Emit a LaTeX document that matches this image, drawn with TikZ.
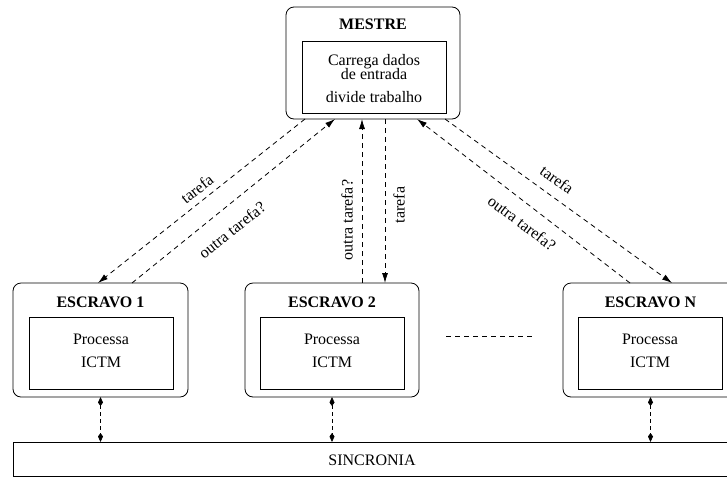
\documentclass[tikz,border=0pt]{standalone}
\usepackage{fontspec}
\setmainfont{Liberation Serif}
\usetikzlibrary{arrows.meta}
\begin{document}
\begin{tikzpicture}[x=1pt,y=-1pt,
  font=\fontsize{16}{19}\selectfont,
  every node/.style={inner sep=0pt, outer sep=0pt},
  outerbox/.style={draw, line width=0.8pt, rounded corners=8pt,
    minimum width=#1, minimum height=114pt},
  innerbox/.style={draw, line width=0.8pt, minimum width=144pt, minimum height=72pt},
  title/.style={anchor=base, font=\fontsize{16}{19}\selectfont\bfseries},
  txt/.style={anchor=base},
  lbl/.style={},
  conn/.style={line width=0.8pt, dash pattern=on 5pt off 4pt},
  msg/.style={conn, -{Latex[length=10pt,width=6pt]}},
  sync/.style={line width=0.8pt, dash pattern=on 4pt off 3pt,
    {Kite[length=9pt,width=5pt,inset=3.5pt]}-{Kite[length=9pt,width=5pt,inset=3.5pt]}}
]
\useasboundingbox (0,0) rectangle (727,477);

% master process
\node[outerbox=174pt, minimum height=112pt] (mestre) at (373,63) {};
\node[innerbox] (mestrein) at (374,77) {};
\node[title] (mestretit) at (373,29.5) {MESTRE};
\node[txt] (m1) at (374,65) {Carrega dados};
\node[txt] (m2) at (374,79.5) {de entrada};
\node[txt] (m3) at (374,102.5) {divide trabalho};

% slave processes
\node[outerbox=175pt] (e1) at (100.5,340) {};
\node[innerbox] (e1in) at (101,353) {};
\node[title] (e1tit) at (100.5,307) {ESCRAVO 1};
\node[txt] (e1a) at (101,344) {Processa};
\node[txt] (e1b) at (101,367) {ICTM};

\node[outerbox=174pt] (e2) at (332,340) {};
\node[innerbox] (e2in) at (332,353) {};
\node[title] (e2tit) at (332,307) {ESCRAVO 2};
\node[txt] (e2a) at (332,344) {Processa};
\node[txt] (e2b) at (332,367) {ICTM};

\node[outerbox=175pt] (en) at (650.5,340) {};
\node[innerbox] (enin) at (650,353) {};
\node[title] (entit) at (650.5,307) {ESCRAVO N};
\node[txt] (ena) at (650,344) {Processa};
\node[txt] (enb) at (650,367) {ICTM};

% synchronisation bar
\node[draw, line width=0.8pt, minimum width=719pt, minimum height=34.5pt] (sinc) at (372.5,459.25) {};
\node[txt] (sinctxt) at (372,465) {SINCRONIA};

% task messages
\draw[msg] ([xshift=-68pt]mestre.south) -- ([xshift=-2.5pt]e1.north);
\draw[msg] ([xshift=31.5pt]e1.north) -- ([xshift=-38pt]mestre.south);
\draw[msg] ([xshift=30pt]e2.north) -- ([xshift=-11pt]mestre.south);
\draw[msg] ([xshift=12pt]mestre.south) -- ([xshift=53pt]e2.north);
\draw[msg] ([xshift=-20.5pt]en.north) -- ([xshift=44pt]mestre.south);
\draw[msg] ([xshift=72pt]mestre.south) -- ([xshift=21.5pt]en.north);

% message labels
\node[lbl, rotate=38] (l1) at (197,189) {tarefa};
\node[lbl, rotate=38.6] (l2) at (232,230) {outra tarefa?};
\node[lbl, rotate=90] (l3) at (347,220) {outra tarefa?};
\node[lbl, rotate=90] (l4) at (399,205) {tarefa};
\node[lbl, rotate=-35.5] (l5) at (557,180) {tarefa};
\node[lbl, rotate=-37] (l6) at (522,223) {outra tarefa?};

% further slaves
\draw[conn] ([yshift=4pt,xshift=27pt]e2.east) -- ([yshift=4pt,xshift=-31pt]en.west);

% links to the synchronisation bar
\draw[sync] (e1.south) -- (e1.south |- sinc.north);
\draw[sync] (e2.south) -- (e2.south |- sinc.north);
\draw[sync] (en.south) -- (en.south |- sinc.north);
\end{tikzpicture}
\end{document}
